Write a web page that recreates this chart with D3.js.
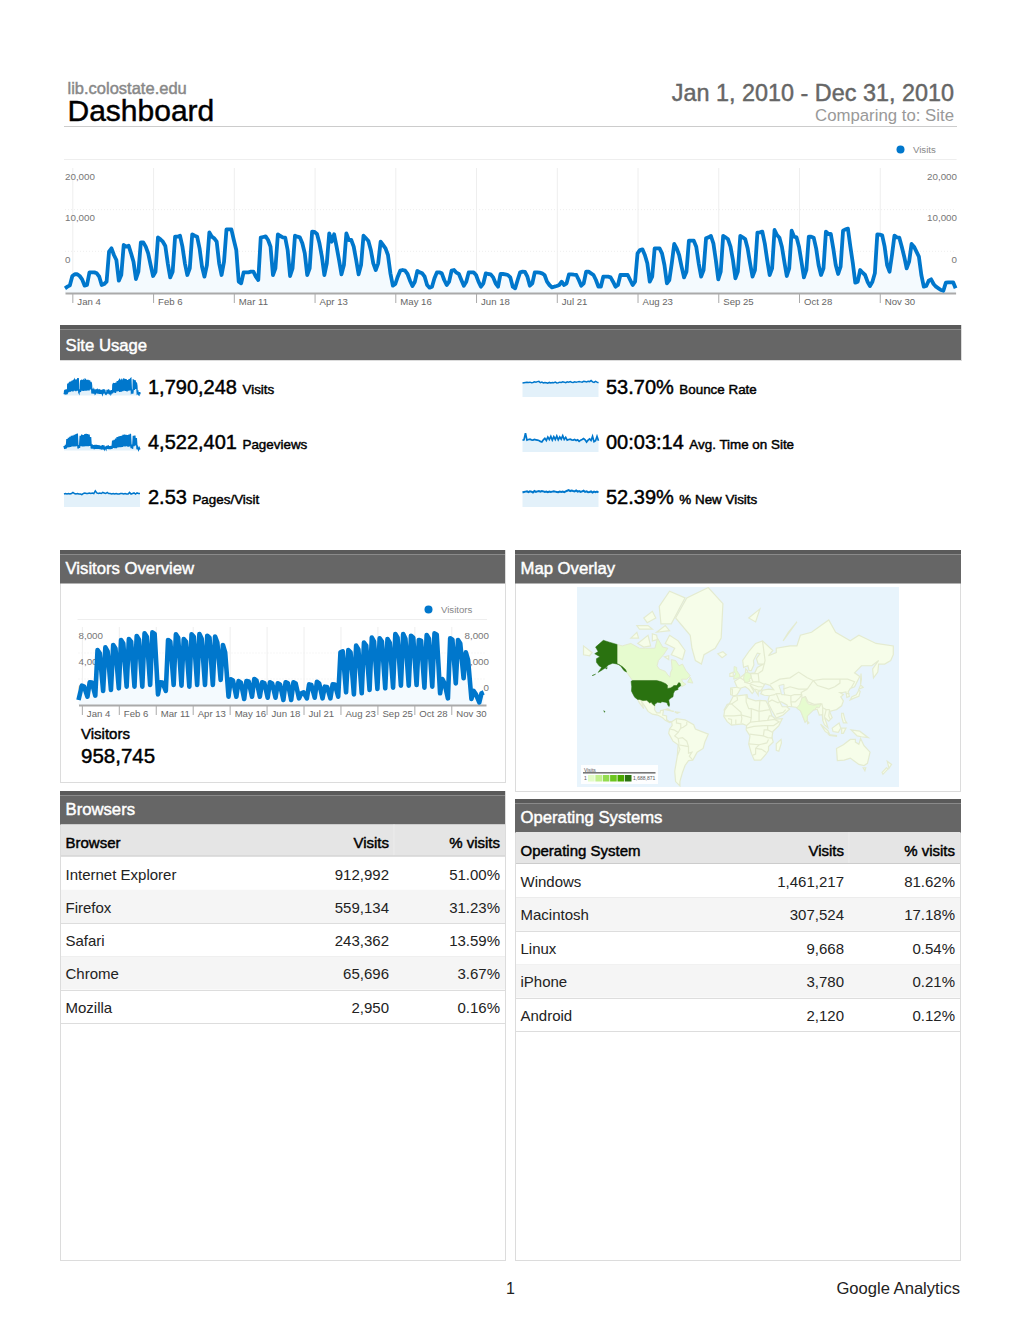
<!DOCTYPE html>
<html>
<head>
<meta charset="utf-8">
<title>Dashboard</title>
<script src="https://cdn.jsdelivr.net/npm/d3@7"></script>
<style>
  html, body { margin: 0; padding: 0; background: #fff; }
  svg { display: block; font-family: "Liberation Sans", Arial, sans-serif; }
  .heavy { stroke: currentColor; stroke-width: 0.45px; }
</style>
</head>
<body>
<svg id="page" width="1020" height="1320"></svg>
<script>
// Site wide tick days (day of 2010, Jan 1 = 0) and their labels
const tickDays = [3, 36, 69, 102, 135, 168, 201, 234, 267, 300, 333];
const tickLabels = ["Jan 4", "Feb 6", "Mar 11", "Apr 13", "May 16", "Jun 18", "Jul 21", "Aug 23", "Sep 25", "Oct 28", "Nov 30"];

// Daily visits, first row is Fri-Sun, then one row per week Mon-Sun
const dailyVisits = [
  750,1010,1230,
  2720,3000,3000,2720,2190,1170,1280,
  3300,3300,3300,3150,2610,1280,1440,
  1810,6610,7150,6080,5280,1970,2880,
  7680,7410,7570,6350,5010,2240,3410,
  8100,8100,7410,6350,4480,2720,3410,
  8900,8590,8210,7520,4750,2500,3410,
  9010,9010,9170,7410,4750,2880,3950,
  9390,9170,9010,7150,4210,2610,4480,
  9700,9010,8750,8210,4750,2880,5010,
  10190,10190,10190,8480,6880,1810,1550,
  3300,3300,3300,3410,3410,2610,2080,
  8850,8960,9060,8480,7410,2880,3950,
  9390,9120,8900,8850,6880,2720,3950,
  9170,9010,8900,7950,6350,2880,3950,
  9810,9760,9440,7950,5810,2880,4750,
  9550,8210,9390,7410,5280,2990,4480,
  9550,8480,8480,7410,5280,2990,4480,
  9170,8750,8320,6880,4750,3680,4750,
  8210,7680,7150,6080,3150,1170,1440,
  2610,3570,3680,3570,3040,1970,1120,
  1810,3520,3300,3150,2610,1280,850,
  1010,2350,3300,3300,3150,2080,1280,
  1810,3570,3680,3250,3040,2080,1170,
  1810,3300,3300,3300,2880,1810,1010,
  1550,3150,3040,2990,2500,1550,1010,
  3040,3040,2990,2880,2500,1010,750,
  2080,3300,3410,3360,2610,1170,1550,
  3300,3300,3250,3150,2880,1810,1280,
  910,1010,1120,1280,1810,1280,1550,
  2990,2990,2930,2880,2080,1170,1550,
  3410,3410,3150,2880,2080,1010,1010,
  2610,2610,2610,2500,1810,1010,1280,
  2880,2880,2880,2880,2080,1280,1810,
  6350,6880,6990,6080,4750,1810,2610,
  7150,7150,7150,6350,4480,1550,2080,
  4750,7840,7150,6080,4210,2500,3410,
  8370,8370,8370,7410,4750,2610,3680,
  8750,8900,9120,7950,5280,2190,3410,
  9120,8900,8590,7410,5280,2350,3410,
  9120,8900,8640,7150,4750,2610,3680,
  9650,9700,9810,7950,5280,2880,3950,
  10080,9280,8850,7410,5010,2720,3950,
  9970,9010,8900,7410,5010,2500,3680,
  9010,9010,8850,7150,4480,2880,3950,
  9810,9440,9440,7150,4480,3040,4210,
  9970,10190,10290,7410,4750,1650,1810,
  3680,3250,2880,1810,1120,1810,3150,
  9390,9330,9230,7410,4480,3410,6080,
  9170,8900,8850,7410,5810,3950,5010,
  7840,7410,6610,5810,2880,1010,1120,
  1970,2190,1440,1010,750,480,370,
  1650,1710,1710,1710,750
];

// Visitors, per week: Monday, Wednesday and Saturday readings
const visitorFirstDay = 510;
const visitorMondays = [1980,2330,5640,5920,6160,6670,6770,7080,7350,7460,2330,6670,7250,6770,7250,7280,7110,7010,6160,2630,2460,2460,2670,2330,2330,2220,2330,2330,1200,2120,2390,1880,2120,5400,5640,6090,6400,6910,6840,6770,7280,7280,7110,6670,7180,7350,2670,6840,6670,5400,1440,1200];
const visitorWednesdays = [1880,2300,5300,5500,5800,6300,6500,6700,7000,7300,2300,6500,6900,6500,7000,6800,6900,6400,5400,2500,2300,2400,2500,2250,2200,2100,2250,2200,1300,2050,2200,1850,2100,5500,5400,5700,6100,6500,6500,6400,6900,6800,6900,6600,6800,7200,2200,6700,6300,4600,1100,1300];
const visitorSaturdays = [855,960,1440,1540,1710,1880,1880,1880,2050,1090,1440,2050,1980,1880,2050,2050,2050,2570,855,855,620,855,855,750,750,510,510,680,680,750,680,680,855,1300,1090,1200,1540,1640,1710,1780,1980,1980,2050,1780,1880,1200,680,2220,2740,620,270,510];

// Pageviews sparkline, one high and one low per week
const pageviewHighs = [7000,8500,17000,19000,20500,22000,22500,23500,24500,25500,8000,22000,24000,23000,24500,25000,24500,24000,20000,9000,8000,8500,8500,8000,7500,7000,8000,7500,4500,7000,7500,6500,7000,15000,16000,18000,20000,21000,21500,22000,23500,24000,23500,23000,24000,25000,9000,22000,22500,18500,5000,4000];
const pageviewLows = [2500,3000,4500,5000,5500,6000,6000,6000,6500,3000,4000,6500,6000,6000,6500,6500,6500,7000,3000,3000,2000,2500,2500,2500,2000,1500,1500,2000,2000,2500,2000,2000,2500,4000,3500,3500,4500,5000,5000,5500,6000,6000,6500,5500,6000,3500,2500,6500,7500,2000,1000,1500];

// Other sparklines
const pagesPerVisit = [2.4,2.5,2.4,2.5,2.4,2.5,2.7,2.5,2.4,2.5,2.4,2.4,2.3,2.5,2.6,2.5,2.5,2.6,2.5,2.6,2.5,3.0,2.6,2.5,2.6,2.5,2.7,2.6,2.5,2.7,2.5,2.5,2.4,2.5,2.4,2.5,2.4,2.4,2.5,2.5,2.4,2.5,2.4,2.4,2.7,2.4,2.5,2.6,2.4,2.6,2.5,2.5];
const bounceRate = [52,53,54,55,54,55,53,54,56,55,57,58,53,55,52,54,53,51,54,52,54,53,55,52,53,55,54,56,55,53,56,55,57,55,54,56,55,56,57,56,55,58,57,56,58,57,61,56,54,58,55,53];
const avgTimeOnSite = [190,195,300,190,200,205,195,190,200,195,190,185,170,160,195,220,185,240,200,250,190,245,200,255,195,240,205,260,200,235,190,200,205,195,190,200,185,195,170,190,200,215,195,160,190,210,185,250,165,180,250,180];
const newVisits = [50,52,53,54,51,54,53,50,55,52,54,55,53,55,54,52,53,51,53,52,53,54,53,52,51,53,52,53,51,54,56,58,55,57,55,54,57,53,55,52,54,56,52,54,51,52,54,50,53,51,53,50];

// KPI numbers and names
const kpiValues = ["1,790,248", "4,522,401", "2.53", "53.70%", "00:03:14", "52.39%"];
const kpiNames = ["Visits", "Pageviews", "Pages/Visit", "Bounce Rate", "Avg. Time on Site", "% New Visits"];

// Browser table
const browserNames = ["Internet Explorer", "Firefox", "Safari", "Chrome", "Mozilla"];
const browserVisits = ["912,992", "559,134", "243,362", "65,696", "2,950"];
const browserShares = ["51.00%", "31.23%", "13.59%", "3.67%", "0.16%"];

// Operating system table
const osNames = ["Windows", "Macintosh", "Linux", "iPhone", "Android"];
const osVisits = ["1,461,217", "307,524", "9,668", "3,780", "2,120"];
const osShares = ["81.62%", "17.18%", "0.54%", "0.21%", "0.12%"];

// Map legend
const mapLegendColors = ["#e3fcc8", "#c2f08e", "#93dc50", "#6cc51f", "#4ba800", "#2a7210"];

// Rough country outlines, lon/lat
const usaRings = [
  [[-124.7,48.4],[-123,49],[-95,49],[-89.5,48],[-84.5,46.5],[-82.5,45.3],[-82.5,42.5],[-79,43],[-76.5,44],[-75,45],[-71.5,45],[-69.5,47.3],[-67.8,47],[-67,44.8],[-70.5,43],[-70,41.7],[-74,40.6],[-75.5,38],[-76,35],[-78.5,33.8],[-81,32],[-80,27],[-80.5,25.2],[-82,26.5],[-82.8,29],[-85,29.7],[-89,30.2],[-90,29.2],[-94,29.6],[-97.2,27.5],[-97.3,26],[-99.5,27.5],[-101.5,29.8],[-103,29],[-106.5,31.7],[-111,31.3],[-114.8,32.5],[-117.2,32.5],[-120.5,34.5],[-122.5,37.5],[-124.3,40.3],[-124,44]],
  [[-141,69.6],[-141,60.2],[-137,59],[-133,56],[-130,55],[-131,56.5],[-135,58.5],[-139,59.8],[-146,60.5],[-151,59.5],[-154,58],[-158,56.5],[-163,54.8],[-159,58],[-162,59],[-165,61],[-165,63],[-161,64],[-167,65.5],[-163,66.5],[-166,68.5],[-157,71.2],[-150,70.5]],
  [[-156.5,20.8],[-155,19.8],[-155.6,19]],
  [[-170,52.6],[-166,53.6],[-168,53]],
  [[-154.5,57.5],[-152.5,58],[-153,57]]
];
const lightRings = [
  [[-141,69.6],[-135,69],[-125,70],[-115,68],[-108,68],[-97,68],[-94,72],[-88,68.5],[-82,68],[-87,65],[-93,62],[-94.5,59],[-92,57],[-85,55.5],[-82,53],[-79.5,51.5],[-79,54.5],[-77,57],[-78,62.5],[-73,62],[-69,59],[-65,60],[-61,56],[-56,52.5],[-60,50],[-66,50],[-65,48],[-61,46],[-66,44],[-67.8,47],[-69.5,47.3],[-71.5,45],[-75,45],[-76.5,44],[-79,43],[-82.5,42.5],[-82.5,45.3],[-84.5,46.5],[-89.5,48],[-95,49],[-123,49],[-130,55],[-133,56],[-137,59],[-141,60.2]],
  [[-59,47.7],[-53,47],[-56,51.5]],
  [[68,24],[71,27],[74,34],[78,35],[79,31],[81,28],[88,26.5],[92,27.5],[96,28],[94,24],[92,24],[91.5,25],[88.5,22],[87,21.5],[80,15],[80,10.5],[77.5,8],[73,19],[72,21],[69,22.5]],
  [[6,51],[7,53.5],[9,55],[14,54],[15,51],[12.5,50],[13.5,48.5],[10,47.5],[7.5,47.7],[6.5,49.5]],
  [[-5.5,50],[1.5,51.3],[1.5,53],[-2,56],[-2,58],[-5,58.5],[-5,55],[-3,54],[-5,52]]
];
const landRings = [
  [[-80,73],[-70,71],[-62,67],[-65,62.5],[-72,64],[-78,65],[-74,68],[-85,70]],
  [[-117,70],[-105,73],[-102,69],[-110,68.5]],
  [[-90,76.5],[-78,76.5],[-62,82],[-80,83],[-92,80.5]],
  [[-125,72],[-118,74],[-116,72]],
  [[-95,74],[-80,74.5],[-85,76]],
  [[-118,76],[-105,76],[-100,75],[-115,75]],
  [[-100,73.5],[-95,73],[-94,71.5],[-100,71]],
  [[-110,78],[-100,79.5],[-96,78],[-106,76.8]],
  [[-86,64],[-81,64.5],[-81,62.5]],
  [[-73,78],[-60,82],[-35,83.5],[-18,81],[-20,72],[-27,68],[-40,65],[-43,60],[-50,62],[-54,68],[-56,73]],
  [[-117.2,32.5],[-114.8,32.5],[-111,31.3],[-106.5,31.7],[-103,29],[-101.5,29.8],[-99.5,27.5],[-97.3,26],[-97.5,22],[-95,18.5],[-91,18.5],[-90.5,21],[-87,21.5],[-88,16],[-83.5,15],[-83.5,11],[-81,9],[-77.5,8.5],[-80,7.5],[-85,10],[-88,13],[-94,16],[-100,17],[-105,20],[-109,26],[-113,31],[-110,23],[-115,29]],
  [[-77.5,8.5],[-72,12],[-62,10.5],[-52,5],[-50,0],[-44,-2.5],[-35,-6],[-39,-15],[-41,-22],[-48,-26],[-53,-34],[-58,-34.5],[-62,-39],[-65,-45],[-68,-52],[-68,-55],[-73,-52],[-74,-44],[-71,-30],[-70,-18],[-76,-14],[-81,-5],[-80,0],[-77,4]],
  [[-6,35.5],[10,37],[11,33.5],[20,31],[25,31.5],[32,31],[34,28],[37,21],[39,15],[43,11.5],[51,12],[47,4],[40,-3],[39,-10],[40.5,-15],[35,-20],[35,-24],[32,-28],[26,-34],[18.5,-34],[15,-27],[12,-17],[13.5,-8],[9,-1],[9.5,4],[5,6],[-3,5],[-8,4.5],[-13,8.5],[-17,14.5],[-16,21],[-10,29]],
  [[49.5,-12],[50,-16],[47,-25],[44,-24],[44,-17]],
  [[-9,37],[-9,43],[-1.5,43.5],[-4.5,48.5],[2,51],[8,54],[8.5,57],[10.5,56],[11,54],[19,54.5],[22,58],[29,60],[23,60],[21,63],[25,65.5],[22,65.8],[17.5,62],[18,59.5],[15,56],[12.5,56],[11,59],[6,58],[5,62],[13,67],[20,70],[28,71],[40,67],[35,64.5],[44,66],[44,68],[60,69],[68,69],[72,73],[85,74],[105,77.5],[113,74],[130,71],[140,73],[160,70],[180,69],[180,65],[177,62],[170,60],[163,60],[162,55],[157,51],[156,57],[163,62],[155,59],[143,59],[135,54.5],[141,52],[135,44],[130,42.5],[127.5,39.5],[129,35.5],[126,34.5],[125,39.5],[121,39],[118,39],[122,37],[119,35],[122,31],[120,26],[114,22],[110,21],[106,20],[109,13],[105,9],[100,13.5],[103,5],[104,1.5],[100,5],[98,10],[97.5,16.5],[94,16],[91.5,22.5],[87,21.5],[80,15],[80,10.5],[77.5,8],[73,19],[72,21],[67,24.5],[57,25.5],[56.5,27],[50,30],[48,30],[51,25],[56,25],[59.5,22.5],[52,16],[44,12.5],[39,21],[35,28],[34.5,31.5],[36,36],[30,36.5],[26,38],[28,41],[35,42],[41,41.5],[37,45],[31,46.5],[28,43],[26,40.5],[23,40],[23,36.5],[19.5,41],[13.5,45.5],[18,40],[16,38],[12,42],[8,44],[3,43],[0,39],[-2,36.7],[-5.5,36]],
  [[-180,69],[-170,66],[-173,64.5],[-180,65]],
  [[-10,52],[-6,52],[-6,55],[-10,54]],
  [[-24,65.5],[-18,66.5],[-14,65],[-19,63.5]],
  [[130,32],[135,34],[140,35.5],[141.5,40],[140,41],[137,37],[132,35]],
  [[140,42],[145,43.5],[142,45.5]],
  [[142,46],[143,50],[142.5,54],[142,50]],
  [[95.5,5.5],[104,-2],[106,-6],[101,-3]],
  [[109,1],[117,7],[119,1],[116,-4],[110,-3]],
  [[105,-6.5],[114,-7.5],[114,-8.5],[106,-7.5]],
  [[120,1],[125,1],[122,-5],[120,-5]],
  [[131,-1],[141,-2.5],[151,-10],[143,-9],[138,-8]],
  [[120,18],[122,18],[124,10],[126,7],[122,7],[120,14]],
  [[80,9.5],[82,7],[80.5,6]],
  [[114,-22],[122,-18],[130,-12],[136,-12],[136,-15],[140,-17.5],[142,-11],[146,-19],[153,-26],[150,-37],[146,-39],[140,-38],[135,-35],[130,-32],[123,-34],[115,-34.5]],
  [[145,-41],[148,-41],[147,-43.5]],
  [[173,-35],[178,-38],[175,-41.5]],
  [[172,-41],[174,-42],[168,-46.5],[167,-45]],
  [[-85,22],[-75,20],[-77,20],[-82,23]],
  [[-74,19.5],[-69,19],[-71,18]],
  [[12,78],[25,80],[20,77]],
  [[52,71],[68,77],[58,74]]
];
const waterRings = [[[47,45],[53,46],[53,40],[54,37],[50,37],[49,41]]];
const borderLines = [
  [[-70,-18],[-58,-20],[-58,-27],[-54,-26],[-57,-30],[-53,-34]],
  [[-71,-30],[-68,-23],[-70,-18]],
  [[-80,0],[-75,-1],[-70,-4],[-74,-8],[-70,-11],[-69,-17]],
  [[-72,12],[-72,7],[-67,6],[-67,1],[-70,-4]],
  [[-60,8],[-60,5],[-64,2],[-67,1]],
  [[-70,-11],[-65,-10],[-60,-14],[-58,-20]],
  [[-1.5,35],[-1,32],[-8,28],[-13,27.5],[-17,21]],
  [[-8,28],[3,19],[4,12],[3,6.5]],
  [[9,37],[9,30],[12,23],[15,23],[24,20],[25,31.5]],
  [[24,20],[36.8,22]],
  [[24,20],[24,9],[34,10],[36,15],[39,15]],
  [[15,23],[15,13],[14,8],[9.5,4]],
  [[-17,15],[-5,15],[4,16],[15,13]],
  [[-8,4.5],[-8,11],[-12,12]],
  [[-3,5],[-3,11]],
  [[14,8],[24,9]],
  [[9.5,1],[18,3],[30,4],[34,4],[41,4],[47,8]],
  [[34,4],[34,-1],[40,-4]],
  [[34,-1],[30,-1],[29,-8],[34,-10],[40,-10.5]],
  [[13,-6],[22,-7],[29,-8]],
  [[12,-17],[24,-18],[33,-16],[35,-12]],
  [[24,-18],[20,-22],[20,-28],[17,-29]],
  [[20,-22],[27,-23],[32,-26]],
  [[34,10],[42,11],[48,8]],
  [[28,71],[31,62],[28,56],[23,54],[24,48],[30,46]],
  [[23,54],[14,54],[15,51],[17,48],[24,48]],
  [[2,51],[7,49],[7.5,47.7],[13,46.5],[17,48]],
  [[-1.5,43.5],[3,42.5]],
  [[-7,37],[-7,42],[-9,42]],
  [[13,46.5],[19,45],[23,44],[28,44]],
  [[19.5,42],[23,41],[26,41]],
  [[37,46],[48,50],[60,51],[70,55],[80,51],[87,49],[98,50],[110,50],[118,50],[127,50],[135,48],[131,43]],
  [[87,49],[92,45],[105,42],[112,44],[118,47],[118,50]],
  [[80,42],[73,39],[74,34],[78,35],[81,30],[88,27.5],[97,28],[98,24],[102,22],[106,22]],
  [[87,49],[80,42]],
  [[52,42],[60,44],[70,42],[80,42]],
  [[53,37],[61,36],[65,37],[74,37]],
  [[61,36],[61,30],[62,25]],
  [[44,38],[46,34],[48,30]],
  [[61,30],[66,30],[71,34],[74,37]],
  [[36,36],[42,37],[44,38],[49,38]],
  [[35,30],[39,32],[46,29],[48,30]],
  [[44,17],[52,19],[55,22]],
  [[98,24],[98,10]],
  [[102,22],[100,14]],
  [[106,22],[105,15],[107,11]],
  [[125,38],[129,38]]
];

const svg = d3.select("#page");
const BLUE = "#0077cc";
const LAND_EDGE = "#e4ebd0";

function label(parent, x, y, str, size, color, anchor, heavy) {
  return parent.append("text")
    .attr("x", x).attr("y", y)
    .attr("font-size", size)
    .attr("fill", color)
    .attr("text-anchor", anchor || "start")
    .attr("class", heavy ? "heavy" : null)
    .style("color", color)
    .text(str);
}

function panelBox(x, y, w, h) {
  svg.append("rect")
    .attr("x", x + 0.5).attr("y", y + 0.5)
    .attr("width", w).attr("height", h)
    .attr("fill", "#fff").attr("stroke", "#dcdcdc");
}

function sectionBar(x, y, w, h, title, baseline) {
  svg.append("rect").attr("x", x).attr("y", y).attr("width", w).attr("height", h).attr("fill", "#666");
  svg.append("rect").attr("x", x).attr("y", y).attr("width", w).attr("height", 4).attr("fill", "#5a5a5a");
  svg.append("rect").attr("x", x).attr("y", y + 4).attr("width", w).attr("height", 1).attr("fill", "#8a8a8a");
  label(svg, x + 5.5, baseline, title, 16.7, "#fff", "start", true);
}

// big trend chart: grid and labels go first so the line sits on top of them
function trendChart(o) {
  const g = svg.append("g");
  const x = d3.scaleLinear().domain([0, 364]).range(o.xRange);
  const y = d3.scaleLinear().domain([0, o.yMax]).range([o.yBottom, o.yTop]);

  g.append("line")
    .attr("x1", o.xRange[0] - 1).attr("x2", o.xRange[1] + 1)
    .attr("y1", o.legendLine + 0.5).attr("y2", o.legendLine + 0.5)
    .attr("stroke", "#eee");

  g.selectAll("line.dotted").data([1, 2]).join("line")
    .attr("class", "dotted")
    .attr("x1", o.xRange[0]).attr("x2", o.xRange[1])
    .attr("y1", d => y(o.yMax * d / 3)).attr("y2", d => y(o.yMax * d / 3))
    .attr("stroke", "#eee").attr("stroke-dasharray", "1,2");

  g.selectAll("line.vgrid").data(tickDays).join("line")
    .attr("class", "vgrid")
    .attr("x1", d => x(d) + 0.5).attr("x2", d => x(d) + 0.5)
    .attr("y1", o.yTop).attr("y2", o.yBottom)
    .attr("stroke", "#eee");

  // these axis labels sit a fixed way off the grid in the reference, so they get their own scale
  const labelY = d3.scalePoint().domain(o.yLabels).range(o.labelRange);
  o.yLabels.forEach(t => {
    label(g, o.xRange[0], labelY(t), t, 9.8, "#777");
    label(g, o.rightLabelX, labelY(t), t, 9.8, "#777", "end");
  });

  g.append("path").datum(o.points)
    .attr("fill", "#f4fafe")
    .attr("d", d3.area().x(d => x(d[0])).y0(o.yBottom).y1(d => y(d[1])));

  const axis = g.append("g")
    .attr("transform", `translate(0,${o.yBottom})`)
    .call(d3.axisBottom(x).tickValues(tickDays).tickSize(10).tickSizeOuter(0).tickFormat((d, i) => tickLabels[i]));
  axis.select(".domain").attr("stroke", "#aaa").attr("stroke-width", 2);
  axis.selectAll(".tick line").attr("stroke", "#aaa");
  axis.selectAll(".tick text")
    .attr("text-anchor", "start").attr("x", o.labelDx).attr("y", 5.5)
    .attr("font-size", 9.6).attr("fill", "#666")
    .attr("font-family", "Liberation Sans");

  g.append("path").datum(o.points)
    .attr("fill", "none").attr("stroke", BLUE)
    .attr("stroke-width", o.lineWidth).attr("stroke-linejoin", "round")
    .attr("d", d3.line().x(d => x(d[0])).y(d => y(d[1])));

  g.append("circle").attr("cx", o.legendX).attr("cy", o.legendLine - 9.5).attr("r", 4).attr("fill", BLUE);
  label(g, o.legendX + 12.5, o.legendLine - 6, o.name, 9.6, "#888");
}

function sparkline(values, xStart, yBottom, yMax, pixelsHigh, width) {
  const x = d3.scaleLinear().domain([0, values.length - 1]).range([xStart, xStart + 76]);
  const y = d3.scaleLinear().domain([0, yMax]).range([yBottom, yBottom - pixelsHigh]);
  svg.append("path").datum(values)
    .attr("fill", "#e3f1fa")
    .attr("d", d3.area().x((d, i) => x(i)).y0(yBottom).y1(d => y(d)));
  svg.append("path").datum(values)
    .attr("fill", "none").attr("stroke", BLUE).attr("stroke-width", width)
    .attr("d", d3.line().x((d, i) => x(i)).y(d => y(d)));
}

function table(x, w, top, rowHeight, headers, names, visits, shares) {
  const rightA = x + w - 116;
  const rightB = x + w - 5;
  svg.append("rect").attr("x", x + 1).attr("y", top).attr("width", w - 1).attr("height", 32).attr("fill", "#e5e5e5");
  svg.append("line").attr("x1", rightA + 5).attr("x2", rightA + 5).attr("y1", top).attr("y2", top + 31).attr("stroke", "#ececec");
  svg.append("line").attr("x1", x + 1).attr("x2", x + w).attr("y1", top + 31.5).attr("y2", top + 31.5).attr("stroke", "#ccc");
  label(svg, x + 5.5, top + 23.5, headers[0], 15, "#000", "start", true);
  label(svg, rightA, top + 23.5, headers[1], 15, "#000", "end", true);
  label(svg, rightB, top + 23.5, headers[2], 15, "#000", "end", true);

  const rowY = d3.scaleLinear().domain([0, 1]).range([top + 32, top + 32 + rowHeight]);
  names.forEach((name, i) => {
    if (i % 2 === 1) {
      svg.append("rect").attr("x", x + 1).attr("y", rowY(i)).attr("width", w - 1).attr("height", rowHeight).attr("fill", "#f5f5f5");
    }
    svg.append("line")
      .attr("x1", x + 1).attr("x2", x + w)
      .attr("y1", Math.round(rowY(i + 1)) + 0.5).attr("y2", Math.round(rowY(i + 1)) + 0.5)
      .attr("stroke", "#ddd");
    const base = rowY(i) + 23;
    label(svg, x + 5.5, base, name, 15, "#222");
    label(svg, rightA, base, visits[i], 15, "#222", "end");
    label(svg, rightB, base, shares[i], 15, "#222", "end");
  });
}

// ---- header ----
label(svg, 67.5, 94, "lib.colostate.edu", 16.5, "#888", "start", true);
label(svg, 67.5, 121, "Dashboard", 30, "#000", "start", true);
label(svg, 954, 101, "Jan 1, 2010 - Dec 31, 2010", 23.4, "#666", "end", true);
label(svg, 954, 121, "Comparing to: Site", 16.8, "#999", "end");
svg.append("line").attr("x1", 64).attr("x2", 957).attr("y1", 126.5).attr("y2", 126.5).attr("stroke", "#ccc");

// ---- main visits chart ----
trendChart({
  name: "Visits",
  points: dailyVisits.map((v, i) => [i, v]),
  xRange: [65, 955.6], yBottom: 293, yTop: 168, yMax: 20000,
  yLabels: ["20,000", "10,000", "0"], labelRange: [179.5, 262.5], rightLabelX: 957,
  legendLine: 159, legendX: 900.5, lineWidth: 3.8, labelDx: 4.5
});

// ---- site usage ----
panelBox(60, 325, 901, 35);
sectionBar(60, 325, 901, 35, "Site Usage", 350.5);

const visitorPoints = [[0, visitorFirstDay]];
visitorMondays.forEach((v, k) => {
  const monday = 3 + k * 7;
  visitorPoints.push([monday, v], [monday + 2, visitorWednesdays[k]], [monday + 5, visitorSaturdays[k]]);
});

const pageviews = d3.merge(pageviewHighs.map((v, i) => [v, pageviewLows[i]]));
sparkline(dailyVisits, 64, 395.5, 10300, 17, 1.4);
sparkline(pageviews, 64, 450.5, 25500, 17, 1.4);
sparkline(pagesPerVisit, 64, 507, 5, 27, 1.5);
sparkline(bounceRate, 522.5, 397, 100, 27, 1.5);
sparkline(avgTimeOnSite, 522.5, 452, 400, 25, 1.7);
sparkline(newVisits, 522.5, 507, 100, 29, 2);

const kpiSlots = d3.cross([148, 606], [394, 449, 504]);
kpiValues.forEach((v, i) => {
  const [kx, ky] = kpiSlots[i];
  const t = label(svg, kx, ky, v, 20, "#000", "start", true);
  label(svg, kx + t.node().getComputedTextLength() + 5.5, ky, kpiNames[i], 13.4, "#000", "start", true);
});

// ---- visitors overview ----
panelBox(60, 550, 445, 232);
sectionBar(60, 550, 445, 33.5, "Visitors Overview", 574);
trendChart({
  name: "Visitors",
  points: visitorPoints.filter(d => d[0] <= 364),
  xRange: [78.5, 486], yBottom: 705, yTop: 627, yMax: 8000,
  yLabels: ["8,000", "4,000", "0"], labelRange: [638.5, 690.5], rightLabelX: 489,
  legendLine: 619, legendX: 428.5, lineWidth: 4.6, labelDx: 4.5
});
label(svg, 81, 739, "Visitors", 15, "#000", "start", true);
label(svg, 81, 763, "958,745", 20.5, "#000", "start", true);

// ---- map ----
panelBox(515, 550, 445, 241);
sectionBar(515, 550, 446, 33.5, "Map Overlay", 574);

const projection = d3.geoMercator().scale(49.3).translate([738.4, 729]);
const ringPath = ring => d3.line()(ring.map(p => projection(p))) + "Z";
const mapClip = svg.append("clipPath").attr("id", "mapClip");
mapClip.append("rect").attr("x", 577).attr("y", 587).attr("width", 322).attr("height", 200);
svg.append("rect").attr("x", 577).attr("y", 587).attr("width", 322).attr("height", 200).attr("fill", "#e8f4fc");
const mapG = svg.append("g").attr("clip-path", "url(#mapClip)");

mapG.selectAll("path.land").data(landRings).join("path")
  .attr("class", "land").attr("d", ringPath)
  .attr("fill", "#f6fde9").attr("stroke", LAND_EDGE).attr("stroke-width", 1.2);
mapG.selectAll("path.water").data(waterRings).join("path")
  .attr("class", "water").attr("d", ringPath)
  .attr("fill", "#e8f4fc").attr("stroke", LAND_EDGE);
mapG.selectAll("path.border").data(borderLines).join("path")
  .attr("class", "border")
  .attr("d", line => d3.line()(line.map(p => projection(p))))
  .attr("fill", "none").attr("stroke", LAND_EDGE).attr("stroke-width", 1.2);
mapG.selectAll("path.light").data(lightRings).join("path")
  .attr("class", "light").attr("d", ringPath)
  .attr("fill", "#e6fbcf").attr("stroke", LAND_EDGE);
mapG.selectAll("path.usa").data(usaRings).join("path")
  .attr("class", "usa").attr("d", ringPath)
  .attr("fill", "#2a7210").attr("stroke", "#2a7210").attr("stroke-width", 0.5);

// map legend box
svg.append("rect").attr("x", 581).attr("y", 765).attr("width", 77).attr("height", 19).attr("fill", "#fff").attr("opacity", 0.9);
label(svg, 584, 771.5, "Visits", 5, "#555");
svg.append("rect").attr("x", 583).attr("y", 772).attr("width", 72.5).attr("height", 1.6).attr("fill", "#777");
label(svg, 584, 780, "1", 5, "#555");
const swatchX = d3.scaleBand().domain(d3.range(mapLegendColors.length)).range([588, 631.5]).paddingInner(0.1);
svg.selectAll("rect.swatch").data(mapLegendColors).join("rect")
  .attr("class", "swatch")
  .attr("x", (d, i) => swatchX(i)).attr("y", 775)
  .attr("width", swatchX.bandwidth()).attr("height", 6.5)
  .attr("fill", d => d);
label(svg, 633, 780, "1,688,871", 5, "#555");

// ---- tables ----
panelBox(60, 791, 445, 469);
sectionBar(60, 791, 445, 33.5, "Browsers", 815);
table(60, 445, 824.5, 33.25, ["Browser", "Visits", "% visits"], browserNames, browserVisits, browserShares);

panelBox(515, 799, 445, 461);
sectionBar(515, 799, 446, 33.5, "Operating Systems", 823);
table(515, 445, 832, 33.4, ["Operating System", "Visits", "% visits"], osNames, osVisits, osShares);

// ---- footer ----
label(svg, 510.5, 1294, "1", 16, "#222", "middle");
label(svg, 960, 1294, "Google Analytics", 16.6, "#222", "end");
</script>
</body>
</html>
